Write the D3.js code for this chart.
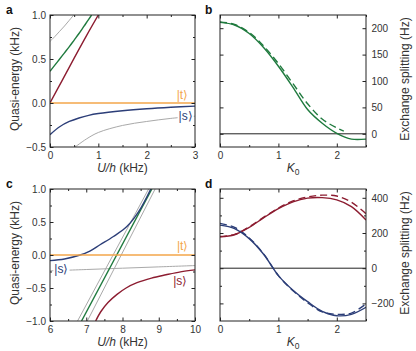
<!DOCTYPE html>
<html>
<head>
<meta charset="utf-8">
<script src="https://cdn.jsdelivr.net/npm/d3@7"></script>
<style>
  body { margin: 0; background: #fff; }
  svg { display: block; font-family: "Liberation Sans", Arial, sans-serif; }
</style>
</head>
<body>
<div id="chart"></div>
<script>
// ---- data ----
// panel a: quasi-energy (kHz) vs U/h (kHz)
let aXTicks = [0, 1, 2, 3];
let aYTicks = [-0.5, 0, 0.5, 1.0];
let aGrayTop = [[0, 0.70], [0.1, 0.755], [0.2, 0.815], [0.3, 0.875], [0.4, 0.94], [0.49, 1.0]];
let aGreen = [[0, 0.36], [0.1, 0.43], [0.2, 0.50], [0.3, 0.57], [0.4, 0.64], [0.5, 0.715], [0.6, 0.79], [0.7, 0.87], [0.8, 0.95], [0.86, 1.0]];
let aRed = [[0, 0], [0.25, 0.255], [0.5, 0.51], [0.75, 0.76], [1.0, 1.0]];
let aOrange = [[0, 0], [3, 0]];
let aNavy = [[0, -0.36], [0.2, -0.27], [0.4, -0.21], [0.6, -0.17], [0.8, -0.14], [1, -0.12], [1.5, -0.088], [2, -0.065], [2.5, -0.048], [3, -0.035]];
let aGrayLow = [[0.52, -0.5], [0.75, -0.41], [1, -0.335], [1.5, -0.255], [2, -0.21], [2.5, -0.175], [3, -0.15]];

// panel b: exchange splitting (Hz) vs K0
let bXTicks = [0, 1, 2];
let bYTicks = [0, 50, 100, 150, 200];
let bK = [0, 0.25, 0.5, 0.75, 1, 1.25, 1.5, 1.75, 2, 2.25, 2.5];
let bSolid = [211, 206, 190, 163, 128, 88, 46, 20, 1, -10, -10];
let bDashedK = [0, 0.25, 0.5, 0.75, 1, 1.25, 1.5, 1.75, 2, 2.12];
let bDashed = [212, 207, 192, 166, 133, 95, 57, 28, 11, 5];

// panel c: quasi-energy (kHz) vs U/h (kHz)
let cXTicks = [6, 7, 8, 9, 10];
let cYTicks = [-1.0, -0.5, 0, 0.5, 1.0];
let cNavy = [[6, -0.085], [6.4, -0.06], [6.83, 0], [7.1, 0.06], [7.38, 0.155], [7.75, 0.28], [8.12, 0.43], [8.45, 0.66], [8.78, 1.0]];
let cGrayA = [[6.76, -1], [8.72, 1]];
let cGreen = [[6.87, -1], [8.81, 1]];
let cGrayB = [[7.03, -1], [8.9, 1]];
let cGrayFlat = [[6, -0.24], [7, -0.22], [8, -0.2], [9, -0.18], [10, -0.16]];
let cOrange = [[6, 0], [10, 0]];
let cRed = [[7.26, -1], [7.4, -0.86], [7.6, -0.72], [7.84, -0.6], [8.1, -0.5], [8.4, -0.42], [8.8, -0.35], [9.2, -0.3], [9.6, -0.255], [10, -0.225]];

// panel d: exchange splitting (Hz) vs K0
let dXTicks = [0, 1, 2];
let dYTicks = [-200, 0, 200, 400];
let dK = [0, 0.25, 0.5, 0.75, 1, 1.25, 1.5, 1.75, 2, 2.25, 2.5];
let dRedSolid = [178, 190, 232, 287, 338, 377, 398, 401, 388, 350, 274];
let dRedDashed = [180, 192, 235, 290, 342, 382, 405, 415, 410, 375, 310];
let dBlueSolid = [245, 225, 168, 78, -42, -125, -190, -245, -270, -262, -222];
let dBlueDashed = [255, 232, 172, 80, -42, -128, -196, -248, -262, -255, -203];

let col = {
    orange: "#f3a64a",
    navy: "#2c3e78",
    red: "#8c1c30",
    green: "#1f7a3e",
    gray: "#a9a9a9",
    text: "#333"
};

let width = 416;
let height = 351;

let svg = d3.select("#chart")
    .append("svg")
    .attr("width", width)
    .attr("height", height)
    .attr("viewBox", [0, 0, width, height]);

let zip = (xs, ys) => xs.map((x, i) => [x, ys[i]]);

function panel(cfg) {
    let x = d3.scaleLinear().domain(cfg.xd).range([cfg.left, cfg.right]);
    let y = d3.scaleLinear().domain(cfg.yd).range([cfg.bottom, cfg.top]);
    let g = svg.append("g");

    let clipId = "clip-" + cfg.name;
    g.append("clipPath").attr("id", clipId)
        .append("rect")
        .attr("x", cfg.left).attr("y", cfg.top)
        .attr("width", cfg.right - cfg.left).attr("height", cfg.bottom - cfg.top);

    let plot = g.append("g").attr("clip-path", `url(#${clipId})`);
    let line = d3.line()
        .curve(d3.curveCatmullRom)
        .x(d => x(d[0]))
        .y(d => y(d[1]));

    cfg.series.forEach(s => {
        plot.append("path")
            .datum(s.data)
            .attr("fill", "none")
            .attr("stroke", s.color)
            .attr("stroke-width", s.w || 1.4)
            .attr("stroke-dasharray", s.dash || null)
            .attr("d", line);
    });

    // state labels with white backing
    (cfg.labels || []).forEach(l => {
        let t = g.append("text")
            .attr("x", x(l.x)).attr("y", y(l.y))
            .attr("text-anchor", l.anchor || "start")
            .attr("font-size", 12)
            .attr("fill", l.color)
            .text(l.text);
        let bb = t.node().getBBox();
        g.insert("rect", () => t.node())
            .attr("x", bb.x - 1).attr("y", bb.y + 1)
            .attr("width", bb.width + 2).attr("height", bb.height - 2)
            .attr("fill", "#fff");
    });

    let fmt = cfg.fmt;
    let minor = cfg.minor;

    function axisGroup(axis, tx, ty) {
        let a = g.append("g")
            .attr("transform", `translate(${tx},${ty})`)
            .attr("font-family", null)
            .attr("font-size", 11.5)
            .call(axis);
        a.select(".domain").remove();
        a.selectAll(".tick line").attr("stroke", "#222");
        a.selectAll(".tick text").attr("fill", col.text);
        return a;
    }

    // bottom
    axisGroup(d3.axisBottom(x).tickValues(cfg.xTicks).tickFormat(d3.format("d"))
        .tickSizeInner(-3.5).tickSizeOuter(0).tickPadding(4.5), 0, cfg.bottom);
    axisGroup(d3.axisBottom(x).tickValues(cfg.xMinor).tickFormat("")
        .tickSizeInner(-2).tickSizeOuter(0), 0, cfg.bottom);
    // top
    axisGroup(d3.axisTop(x).tickValues(cfg.xTicks).tickFormat("")
        .tickSizeInner(-3.5).tickSizeOuter(0), 0, cfg.top);
    axisGroup(d3.axisTop(x).tickValues(cfg.xMinor).tickFormat("")
        .tickSizeInner(-2).tickSizeOuter(0), 0, cfg.top);
    // left / right
    let labelLeft = cfg.side === "left";
    axisGroup(d3.axisLeft(y).tickValues(cfg.yTicks).tickFormat(labelLeft ? fmt : "")
        .tickSizeInner(-3.5).tickSizeOuter(0).tickPadding(4), cfg.left, 0);
    axisGroup(d3.axisRight(y).tickValues(cfg.yTicks).tickFormat(labelLeft ? "" : fmt)
        .tickSizeInner(-3.5).tickSizeOuter(0).tickPadding(5.5), cfg.right, 0);
    axisGroup(d3.axisLeft(y).tickValues(minor).tickFormat("")
        .tickSizeInner(-2).tickSizeOuter(0), cfg.left, 0);
    axisGroup(d3.axisRight(y).tickValues(minor).tickFormat("")
        .tickSizeInner(-2).tickSizeOuter(0), cfg.right, 0);

    // frame
    g.append("rect")
        .attr("x", cfg.left).attr("y", cfg.top)
        .attr("width", cfg.right - cfg.left).attr("height", cfg.bottom - cfg.top)
        .attr("fill", "none")
        .attr("stroke", "#222")
        .attr("stroke-width", 1);

    // panel letter
    svg.append("text")
        .attr("x", cfg.letterX).attr("y", cfg.top - 1)
        .attr("font-size", 12)
        .attr("font-weight", "bold")
        .attr("fill", "#111")
        .text(cfg.name);

    // x title
    let xt = svg.append("text")
        .attr("x", (cfg.left + cfg.right) / 2)
        .attr("y", cfg.bottom + 24.5)
        .attr("text-anchor", "middle")
        .attr("font-size", 12)
        .attr("fill", col.text);
    if (cfg.xTitle === "U") {
        xt.append("tspan").attr("font-style", "italic").text("U/h");
        xt.append("tspan").text(" (kHz)");
    } else {
        xt.append("tspan").attr("font-style", "italic").text("K");
        xt.append("tspan").attr("font-size", 8.5).attr("dy", 3).text("0");
    }

    // y title
    let ymid = (cfg.top + cfg.bottom) / 2 - 2;
    let yx = labelLeft ? 18.5 : 408.5;
    svg.append("text")
        .attr("transform", `translate(${yx},${ymid}) rotate(-90)`)
        .attr("text-anchor", "middle")
        .attr("font-size", 12)
        .attr("fill", col.text)
        .text(labelLeft ? "Quasi-energy (kHz)" : "Exchange splitting (Hz)");
}

let kMinor = [0.5, 1.5, 2.5];

panel({
    name: "a", left: 50, right: 195, top: 15, bottom: 147, letterX: 6,
    xd: [0, 3], yd: [-0.5, 1], xTicks: aXTicks, xMinor: [0.5, 1.5, 2.5],
    yTicks: aYTicks, minor: [-0.25, 0.25, 0.75], fmt: d3.format(".1f"),
    side: "left", xTitle: "U",
    series: [
        { data: aGrayTop, color: col.gray, w: 1 },
        { data: aGrayLow, color: col.gray, w: 1 },
        { data: aGreen, color: col.green },
        { data: aRed, color: col.red },
        { data: aNavy, color: col.navy },
        { data: aOrange, color: col.orange, w: 1.6 }
    ],
    labels: [
        { text: "|t\u27E9", x: 2.62, y: 0.045, color: col.orange },
        { text: "|s\u27E9", x: 2.66, y: -0.19, color: col.navy }
    ]
});

panel({
    name: "b", left: 220, right: 366, top: 15, bottom: 147, letterX: 205,
    xd: [0, 2.5], yd: [-25, 225], xTicks: bXTicks, xMinor: kMinor,
    yTicks: bYTicks, minor: [], fmt: d3.format("d"),
    side: "right", xTitle: "K",
    series: [
        { data: [[0, 0], [2.5, 0]], color: "#222", w: 1 },
        { data: zip(bDashedK, bDashed), color: col.green, dash: "7,4" },
        { data: zip(bK, bSolid), color: col.green }
    ]
});

panel({
    name: "c", left: 50, right: 195, top: 189, bottom: 321, letterX: 6,
    xd: [6, 10], yd: [-1, 1], xTicks: cXTicks, xMinor: [6.5, 7.5, 8.5, 9.5],
    yTicks: cYTicks, minor: [-0.75, -0.25, 0.25, 0.75], fmt: d3.format(".1f"),
    side: "left", xTitle: "U",
    series: [
        { data: cGrayA, color: col.gray, w: 1 },
        { data: cGrayB, color: col.gray, w: 1 },
        { data: cGrayFlat, color: col.gray, w: 1 },
        { data: cGreen, color: col.green },
        { data: cNavy, color: col.navy },
        { data: cRed, color: col.red },
        { data: cOrange, color: col.orange, w: 1.6 }
    ],
    labels: [
        { text: "|t\u27E9", x: 9.5, y: 0.08, color: col.orange },
        { text: "|s\u27E9", x: 6.12, y: -0.28, color: col.navy },
        { text: "|s\u27E9", x: 9.4, y: -0.45, color: col.red }
    ]
});

panel({
    name: "d", left: 220, right: 366, top: 189, bottom: 321, letterX: 205,
    xd: [0, 2.5], yd: [-300, 450], xTicks: dXTicks, xMinor: kMinor,
    yTicks: dYTicks, minor: [-100, 100, 300], fmt: d3.format("d"),
    side: "right", xTitle: "K",
    series: [
        { data: [[0, 0], [2.5, 0]], color: "#222", w: 1 },
        { data: zip(dK, dRedDashed), color: col.red, dash: "7,4" },
        { data: zip(dK, dBlueDashed), color: col.navy, dash: "7,4" },
        { data: zip(dK, dRedSolid), color: col.red },
        { data: zip(dK, dBlueSolid), color: col.navy }
    ]
});
</script>
</body>
</html>
